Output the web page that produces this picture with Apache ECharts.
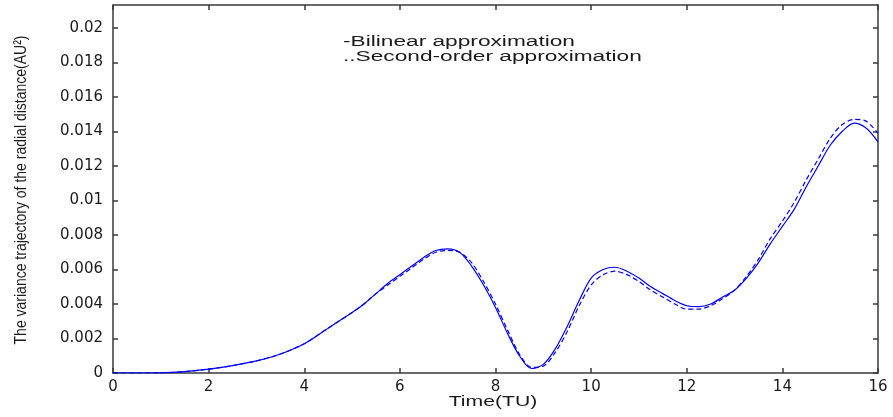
<!DOCTYPE html>
<html>
<head>
<meta charset="utf-8">
<script src="https://cdn.jsdelivr.net/npm/echarts@6/dist/echarts.min.js"></script>
<style>html,body{margin:0;padding:0;background:#fff}#c{width:893px;height:417px}</style>
</head>
<body>
<div id="c"></div>
<script>
var timeTU = [0,0.5,1,1.5,2,2.5,3,3.5,4,4.5,5,5.25,5.5,5.75,6,6.25,6.5,6.75,7,7.25,7.5,7.75,8,8.25,8.5,8.75,9,9.25,9.5,9.75,10,10.25,10.5,10.75,11,11.25,11.5,11.75,12,12.25,12.5,12.75,13,13.25,13.5,13.75,14,14.25,14.5,14.75,15,15.25,15.5,15.75,16];
var bilinear = [0,0,0.00001,0.00008,0.00022,0.00043,0.0007,0.0011,0.0017,0.0026,0.0035,0.0040,0.0046,0.0052,0.0057,0.0062,0.0067,0.0071,0.0072,0.0070,0.0062,0.0051,0.0038,0.0023,0.0010,0.00026,0.0005,0.0014,0.0027,0.0042,0.0055,0.0060,0.00613,0.0059,0.0055,0.0050,0.0046,0.0042,0.0039,0.00385,0.0040,0.0044,0.0048,0.0055,0.0064,0.0075,0.0085,0.0095,0.0108,0.0120,0.0132,0.0140,0.01448,0.0142,0.0134];
var secondOrder = [0,0,0.00001,0.00008,0.00022,0.00043,0.0007,0.0011,0.0017,0.0026,0.0035,0.0040,0.0046,0.0051,0.0056,0.0061,0.0066,0.0070,0.0071,0.0070,0.0064,0.0053,0.0040,0.0025,0.0011,0.00033,0.0004,0.0012,0.0024,0.0039,0.0051,0.0057,0.0059,0.0057,0.0053,0.0048,0.0044,0.0040,0.0037,0.0037,0.0039,0.0043,0.0048,0.0056,0.0066,0.0078,0.0088,0.0099,0.0112,0.0124,0.0136,0.0144,0.0147,0.0146,0.0139];
var xTicks = [0,2,4,6,8,10,12,14,16];
var yTicks = [0,0.002,0.004,0.006,0.008,0.01,0.012,0.014,0.016,0.018,0.02];
var legendLines = ['-Bilinear approximation', '..Second-order approximation'];
var xTitle = 'Time(TU)';
var yTitle = 'The variance trajectory of the radial distance(AU\u00b2)';

function pairs(xs, ys){ return xs.map(function(x,i){ return [x, ys[i]]; }); }

var axisColor = '#3a3a3a';
var txtColor = '#1a1a1a';
var font = '"Liberation Sans", Arial, sans-serif';
var tickFont = '"DejaVu Sans", "Liberation Sans", sans-serif';

var chart = echarts.init(document.getElementById('c'), null, {renderer:'canvas'});
chart.setOption({
  animation: false,
  backgroundColor: '#fff',
  grid: {left: 113, right: 15, top: 5, bottom: 44, containLabel: false},
  xAxis: [{
    type: 'value', min: 0, max: 16, interval: 2, position: 'bottom',
    axisLine: {show: true, onZero: false, lineStyle: {color: axisColor, width: 1.5}},
    axisTick: {show: true, inside: true, length: 5, lineStyle: {color: axisColor, width: 1.5}},
    axisLabel: {color: txtColor, fontSize: 15, fontFamily: tickFont, margin: 7, customValues: xTicks},
    splitLine: {show: false}
  },{
    type: 'value', min: 0, max: 16, interval: 2, position: 'top',
    axisLine: {show: true, onZero: false, lineStyle: {color: axisColor, width: 1.5}},
    axisTick: {show: true, inside: true, length: 5, lineStyle: {color: axisColor, width: 1.5}},
    axisLabel: {show: false},
    splitLine: {show: false}
  }],
  yAxis: [{
    type: 'value', min: 0, max: 0.02133, position: 'left',
    axisLine: {show: true, onZero: false, lineStyle: {color: axisColor, width: 1.5}},
    axisTick: {show: true, inside: true, length: 5, customValues: yTicks, lineStyle: {color: axisColor, width: 1.5}},
    axisLabel: {color: txtColor, fontSize: 15, fontFamily: tickFont, margin: 10, customValues: yTicks,
      formatter: function(v){ return String(+(+v).toFixed(3)); }},
    splitLine: {show: false}
  },{
    type: 'value', min: 0, max: 0.02133, position: 'right',
    axisLine: {show: true, onZero: false, lineStyle: {color: axisColor, width: 1.5}},
    axisTick: {show: true, inside: true, length: 5, customValues: yTicks, lineStyle: {color: axisColor, width: 1.5}},
    axisLabel: {show: false, customValues: yTicks},
    splitLine: {show: false}
  }],
  series: [{
    name: 'Second-order approximation', type: 'line', data: pairs(timeTU, secondOrder),
    smooth: 0.3, showSymbol: false, xAxisIndex: 0, yAxisIndex: 0,
    lineStyle: {color: '#0000ff', width: 1.2, type: [5, 3]}
  },{
    name: 'Bilinear approximation', type: 'line', data: pairs(timeTU, bilinear),
    smooth: 0.3, showSymbol: false, xAxisIndex: 0, yAxisIndex: 0,
    lineStyle: {color: '#0000ff', width: 1.2}
  }],
  graphic: [
    {type: 'text', x: 343, y: 42.5, scaleX: 1.62, style: {text: legendLines[0], fill: txtColor, font: '14px ' + font, verticalAlign: 'middle'}},
    {type: 'text', x: 343, y: 57.5, scaleX: 1.62, style: {text: legendLines[1], fill: txtColor, font: '14px ' + font, verticalAlign: 'middle'}},
    {type: 'text', x: 493, y: 402, scaleX: 1.46, style: {text: xTitle, fill: txtColor, font: '14.5px ' + font, align: 'center', verticalAlign: 'middle'}},
    {type: 'text', x: 21, y: 190, rotation: Math.PI/2, scaleY: 1.2,
      style: {text: yTitle, fill: txtColor, font: '14px "Liberation Sans Narrow", "Liberation Sans", Arial, sans-serif', align: 'center', verticalAlign: 'middle'}}
  ]
});
</script>
</body>
</html>
